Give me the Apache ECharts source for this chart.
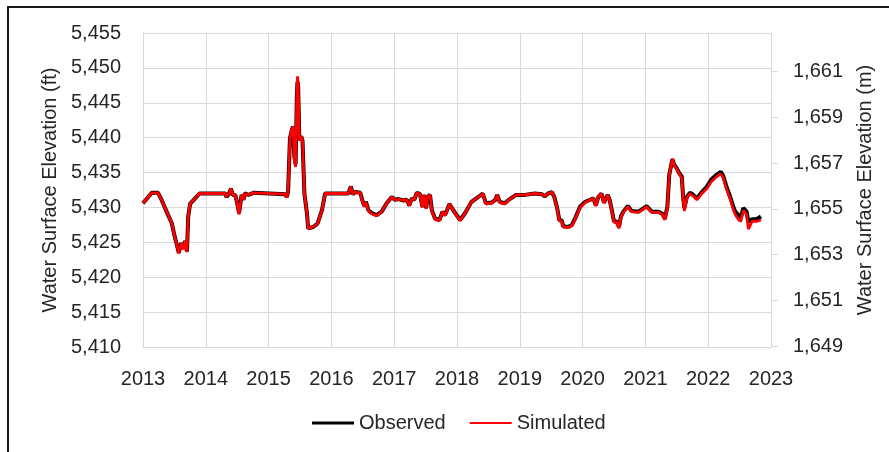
<!DOCTYPE html>
<html lang="en">
<head>
    <meta charset="UTF-8">
    <title>Water Surface Elevation</title>
    <script src="https://cdn.jsdelivr.net/npm/echarts@6/dist/echarts.min.js"></script>
    <style>
        body { margin: 0; background: #fff; }
    </style>
</head>
<body>

<div id="main" style="width: 889px;height:452px;"></div>
<script type="text/javascript">

    // decimal years
    var dates = [
        2013.00, 2013.14, 2013.24, 2013.30, 2013.33, 2013.40, 2013.46, 2013.50, 2013.54, 2013.57,
        2013.61, 2013.64, 2013.67, 2013.70, 2013.72, 2013.75, 2013.83, 2013.90, 2014.31, 2014.33,
        2014.37, 2014.40, 2014.43, 2014.47, 2014.50, 2014.53, 2014.56, 2014.57, 2014.60, 2014.62,
        2014.68, 2014.76, 2015.26, 2015.29, 2015.31, 2015.34, 2015.37, 2015.39, 2015.41, 2015.43,
        2015.45, 2015.46, 2015.47, 2015.49, 2015.52, 2015.54, 2015.57, 2015.61, 2015.63, 2015.71,
        2015.78, 2015.85, 2015.90, 2016.27, 2016.31, 2016.34, 2016.38, 2016.46, 2016.49, 2016.52,
        2016.55, 2016.59, 2016.64, 2016.72, 2016.80, 2016.88, 2016.96, 2017.01, 2017.07, 2017.15,
        2017.20, 2017.24, 2017.28, 2017.32, 2017.36, 2017.41, 2017.45, 2017.47, 2017.51, 2017.53,
        2017.57, 2017.60, 2017.65, 2017.72, 2017.77, 2017.81, 2017.88, 2017.94, 2018.05, 2018.13,
        2018.23, 2018.34, 2018.41, 2018.46, 2018.55, 2018.61, 2018.64, 2018.68, 2018.76, 2018.84,
        2018.94, 2019.08, 2019.24, 2019.35, 2019.40, 2019.45, 2019.51, 2019.55, 2019.59, 2019.63,
        2019.67, 2019.69, 2019.77, 2019.83, 2019.88, 2019.96, 2020.04, 2020.12, 2020.17, 2020.21,
        2020.25, 2020.30, 2020.34, 2020.40, 2020.43, 2020.47, 2020.50, 2020.54, 2020.58, 2020.61,
        2020.65, 2020.72, 2020.78, 2020.89, 2021.02, 2021.10, 2021.21, 2021.27, 2021.31, 2021.35,
        2021.38, 2021.43, 2021.46, 2021.50, 2021.54, 2021.58, 2021.60, 2021.62, 2021.66, 2021.71,
        2021.75, 2021.82, 2021.90, 2021.98, 2022.05, 2022.12, 2022.20, 2022.24, 2022.29, 2022.35,
        2022.40, 2022.43, 2022.48, 2022.52, 2022.56, 2022.61, 2022.64, 2022.70, 2022.77, 2022.84
    ];

    // water surface elevation, ft
    var observed = [
        5430.6, 5432.1, 5432.1, 5431.0, 5430.8, 5428.9, 5427.7, 5426.0, 5424.6, 5423.5,
        5424.9, 5424.1, 5425.2, 5423.7, 5428.7, 5430.5, 5431.3, 5432.0, 5432.0, 5431.5,
        5432.0, 5432.7, 5431.8, 5431.8, 5430.6, 5429.2, 5429.2, 5431.8, 5431.1, 5432.0,
        5431.8, 5432.1, 5431.9, 5431.5, 5432.2, 5439.9, 5441.1, 5441.6, 5437.3, 5436.2,
        5446.0, 5448.0, 5447.6, 5439.6, 5440.2, 5439.6, 5432.0, 5429.2, 5427.0, 5427.2,
        5427.7, 5429.6, 5432.0, 5432.0, 5433.0, 5431.9, 5432.2, 5432.1, 5431.1, 5430.3,
        5430.8, 5429.6, 5429.2, 5428.9, 5429.4, 5430.6, 5431.5, 5431.1, 5431.2, 5431.0,
        5431.1, 5430.3, 5431.3, 5431.1, 5432.1, 5431.9, 5430.1, 5431.8, 5429.9, 5431.5,
        5431.8, 5429.6, 5428.4, 5428.2, 5429.4, 5428.9, 5430.5, 5429.6, 5428.2, 5429.2,
        5430.8, 5431.5, 5432.0, 5430.6, 5430.7, 5431.1, 5431.8, 5430.8, 5430.6, 5431.2,
        5431.8, 5431.8, 5432.0, 5431.9, 5431.6, 5432.0, 5432.2, 5431.5, 5430.1, 5428.2,
        5428.1, 5427.3, 5427.2, 5427.5, 5428.4, 5430.1, 5430.8, 5431.1, 5431.3, 5430.3,
        5431.5, 5432.0, 5430.7, 5431.8, 5431.1, 5429.4, 5428.0, 5428.0, 5427.2, 5428.7,
        5429.4, 5430.2, 5429.5, 5429.4, 5430.2, 5429.4, 5429.4, 5429.1, 5428.4, 5430.1,
        5434.7, 5436.9, 5436.1, 5435.6, 5434.9, 5434.4, 5431.5, 5429.9, 5431.5, 5432.1,
        5431.9, 5431.3, 5432.2, 5433.0, 5434.0, 5434.6, 5435.1, 5434.5, 5433.0, 5431.5,
        5430.1, 5429.4, 5428.9, 5428.6, 5429.9, 5429.4, 5428.0, 5428.3, 5428.3, 5428.7
    ];

    var simulated = [
        5430.6, 5432.1, 5432.1, 5431.0, 5430.8, 5428.9, 5427.7, 5426.0, 5424.6, 5423.4,
        5424.9, 5424.0, 5425.2, 5423.6, 5428.7, 5430.5, 5431.3, 5432.0, 5432.0, 5431.5,
        5432.0, 5432.7, 5431.8, 5431.8, 5430.5, 5429.0, 5429.0, 5431.8, 5431.1, 5432.0,
        5431.8, 5432.1, 5431.9, 5431.4, 5432.2, 5439.9, 5441.2, 5441.6, 5436.8, 5435.8,
        5446.3, 5448.8, 5447.8, 5439.6, 5440.2, 5439.6, 5432.0, 5429.2, 5427.0, 5427.2,
        5427.7, 5429.6, 5432.0, 5432.0, 5433.0, 5431.9, 5432.2, 5432.1, 5431.0, 5430.1,
        5430.7, 5429.5, 5429.1, 5428.8, 5429.4, 5430.6, 5431.5, 5431.1, 5431.2, 5431.0,
        5431.1, 5430.2, 5431.3, 5431.1, 5432.1, 5431.9, 5430.0, 5431.8, 5429.8, 5431.5,
        5431.8, 5429.5, 5428.3, 5428.1, 5429.4, 5428.8, 5430.5, 5429.6, 5428.1, 5429.2,
        5430.8, 5431.5, 5432.0, 5430.5, 5430.6, 5431.1, 5431.8, 5430.7, 5430.5, 5431.2,
        5431.8, 5431.8, 5432.0, 5431.9, 5431.6, 5432.0, 5432.2, 5431.5, 5430.0, 5428.1,
        5428.0, 5427.2, 5427.1, 5427.4, 5428.3, 5430.0, 5430.7, 5431.1, 5431.3, 5430.2,
        5431.5, 5432.0, 5430.6, 5431.8, 5431.0, 5429.3, 5427.9, 5427.9, 5427.0, 5428.6,
        5429.3, 5430.1, 5429.4, 5429.3, 5430.1, 5429.3, 5429.3, 5429.0, 5428.2, 5430.0,
        5434.7, 5437.0, 5436.0, 5435.5, 5434.8, 5434.2, 5431.3, 5429.5, 5431.4, 5432.0,
        5431.7, 5431.1, 5432.0, 5432.7, 5433.7, 5434.3, 5434.8, 5434.2, 5432.7, 5431.2,
        5429.7, 5429.0, 5428.3, 5428.0, 5429.6, 5429.0, 5426.9, 5428.0, 5428.0, 5428.2
    ];

    var ftTicks = [5410, 5415, 5420, 5425, 5430, 5435, 5440, 5445, 5450, 5455];
    var mTicks = [1649, 1651, 1653, 1655, 1657, 1659, 1661];

    var FT_TO_M = 0.3048;
    var gray = '#d9d9d9';
    var textColor = '#262626';
    var font = 'Liberation Sans';

    function withComma(v) {
        return String(Math.round(v)).replace(/(\d)(\d{3})$/, '$1,$2');
    }

    function pairs(xs, ys) {
        return xs.map(function (x, i) { return [x, ys[i]]; });
    }

    var option = {
        animation: false,
        backgroundColor: '#fff',
        textStyle: { fontFamily: font, color: textColor },
        graphic: [{
            type: 'rect',
            shape: { x: 8, y: 7, width: 900, height: 470 },
            style: { fill: 'none', stroke: '#1a1a1a', lineWidth: 2 },
            silent: true
        }],
        grid: { left: 143, right: 118, top: 33, bottom: 105 },
        legend: {
            left: 312,
            top: 413,
            padding: 0,
            itemWidth: 42,
            itemHeight: 14,
            itemGap: 24,
            textStyle: { fontSize: 20, color: textColor, fontFamily: font },
            data: [
                { name: 'Observed', icon: 'path://M0,0 L42,0 L42,3 L0,3 Z', itemStyle: { color: '#000' } },
                { name: 'Simulated', icon: 'path://M0,0 L42,0 L42,2 L0,2 Z', itemStyle: { color: '#ff0000' } }
            ]
        },
        xAxis: {
            type: 'value',
            min: 2013,
            max: 2023,
            interval: 1,
            axisLine: { show: true, lineStyle: { color: gray } },
            axisTick: { show: false },
            splitLine: { show: true, lineStyle: { color: gray } },
            axisLabel: {
                fontSize: 20,
                color: textColor,
                margin: 22,
                formatter: function (v) { return String(v); }
            }
        },
        yAxis: [{
            type: 'value',
            name: 'Water Surface Elevation (ft)',
            nameLocation: 'middle',
            nameGap: 83,
            nameTextStyle: { fontSize: 20, color: textColor },
            min: ftTicks[0],
            max: ftTicks[ftTicks.length - 1],
            interval: 5,
            axisLine: { show: true, lineStyle: { color: gray } },
            axisTick: { show: false },
            splitLine: { show: true, lineStyle: { color: gray } },
            axisLabel: {
                fontSize: 20,
                color: textColor,
                margin: 22,
                formatter: withComma
            }
        }, {
            type: 'value',
            position: 'right',
            name: 'Water Surface Elevation (m)',
            nameLocation: 'middle',
            nameGap: 84,
            nameRotate: 90,
            nameTextStyle: { fontSize: 20, color: textColor },
            min: ftTicks[0] * FT_TO_M,
            max: ftTicks[ftTicks.length - 1] * FT_TO_M,
            axisLine: { show: true, lineStyle: { color: gray } },
            axisTick: {
                show: true,
                length: 7,
                customValues: mTicks,
                lineStyle: { color: gray }
            },
            splitLine: { show: false },
            axisLabel: {
                fontSize: 20,
                color: textColor,
                margin: 22,
                customValues: mTicks,
                formatter: withComma
            }
        }],
        series: [{
            name: 'Observed',
            type: 'line',
            yAxisIndex: 0,
            data: pairs(dates, observed),
            symbol: 'none',
            color: '#000',
            lineStyle: { color: '#000', width: 4 },
            z: 2
        }, {
            name: 'Simulated',
            type: 'line',
            yAxisIndex: 0,
            data: pairs(dates, simulated),
            symbol: 'none',
            color: '#ff0000',
            lineStyle: { color: '#ff0000', width: 2.8 },
            z: 3
        }]
    };

    var myChart = echarts.init(document.getElementById('main'));
    myChart.setOption(option);

</script>

</body>
</html>
